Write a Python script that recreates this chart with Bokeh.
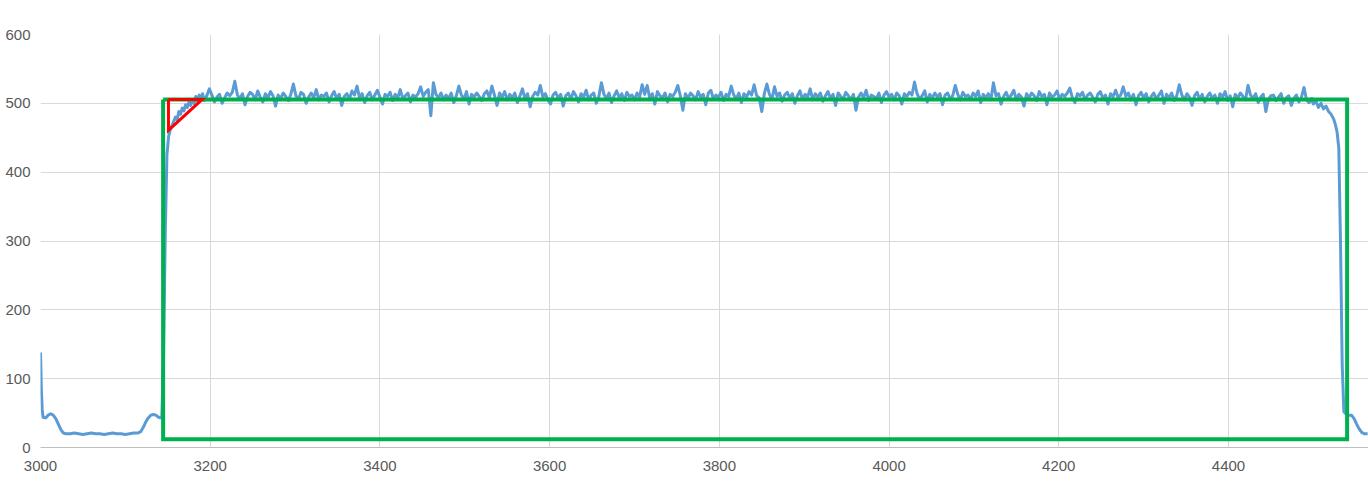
from bokeh.plotting import figure
from bokeh.models import FixedTicker, Range1d
from bokeh.embed import file_html
from bokeh.resources import INLINE

# --- data ---------------------------------------------------------------
lead_x = [3000, 3001, 3002, 3003, 3006, 3009, 3012, 3015, 3018, 3021, 3024, 3027, 3030,
          3035, 3040, 3045, 3050, 3055, 3060, 3065, 3070, 3075, 3080, 3085, 3090, 3095,
          3100, 3105, 3110, 3115,
          3118, 3121, 3124, 3127, 3130, 3133, 3136, 3139, 3141, 3143,
          3145, 3147, 3149, 3151, 3153, 3155, 3157, 3159, 3161, 3163, 3165, 3167, 3169,
          3171, 3173, 3175, 3177, 3179, 3181, 3183, 3185, 3187, 3189, 3191]
lead_y = [138, 85, 55, 44, 43, 47, 49, 47, 42, 34, 26, 21, 20,
          20, 21, 20, 19, 20, 21, 20, 20, 19, 20, 21, 20, 20,
          19, 20, 21, 21,
          23, 29, 37, 43, 47, 48, 47, 44, 43, 45,
          130, 310, 425, 452, 462, 468, 474, 480, 476, 488, 484, 493, 489,
          498, 494, 502, 497, 505, 500, 510, 503, 512, 506, 514]

plateau_start = 3193
plateau_step = 3
plateau_y = [
    504, 511, 521, 512, 502, 509, 513, 500, 508, 515, 511, 516,
    532, 512, 507, 514, 498, 510, 516, 513, 505, 518, 509, 502,
    514, 508, 517, 511, 496, 512, 507, 515, 510, 504, 513, 528,
    511, 506, 516, 513, 500, 509, 515, 508, 520, 505, 512, 510,
    515, 502, 511, 517, 507, 513, 497, 510, 514, 506, 518, 512,
    525, 508, 514, 501, 511, 516, 505, 512, 519, 509, 499, 513,
    510, 516, 504, 513, 508, 520, 506, 511, 515, 502, 512, 509,
    514, 524, 510, 516, 520, 482, 530, 513, 508, 515, 505, 512,
    507, 515, 501, 511, 525, 512, 506, 517, 499, 513, 509, 515,
    510, 504, 514, 518, 508, 525, 512, 497, 515, 509, 517, 505,
    513, 508, 515, 501, 511, 521, 506, 514, 495, 510, 516, 512,
    526, 509, 514, 505, 499, 512, 516, 508, 513, 496, 511, 515,
    506, 517, 511, 502, 514, 509, 519, 505, 512, 515, 500, 510,
    530, 513, 507, 515, 501, 511, 518, 508, 514, 504, 516, 510,
    512, 505, 515, 509, 527, 513, 526, 507, 514, 499, 517, 511,
    508, 515, 502, 513, 510, 516, 526, 511, 490, 514, 507, 515,
    511, 505, 517, 509, 513, 498, 515, 519, 506, 512, 509, 516,
    504, 513, 510, 525, 512, 507, 515, 501, 514, 509, 517, 512,
    527, 511, 508, 488, 514, 528, 513, 506, 524, 510, 515, 503,
    512, 516, 508, 514, 500, 511, 518, 506, 513, 509, 521, 505,
    514, 509, 515, 503, 511, 517, 507, 513, 497, 515, 510, 506,
    516, 511, 505, 513, 490, 509, 515, 508, 519, 504, 512, 510,
    507, 515, 501, 512, 517, 509, 513, 505, 515, 511, 499, 514,
    510, 516, 512, 531, 514, 506, 511, 518, 502, 513, 508, 515,
    509, 514, 498, 512, 515, 507, 511, 526, 513, 505, 516, 510,
    512, 506, 515, 510, 518, 501, 513, 508, 514, 505, 530, 511,
    514, 499, 510, 516, 507, 512, 519, 505, 513, 509, 496, 514,
    508, 515, 511, 504, 517, 510, 513, 498, 515, 509, 512, 518,
    506, 513, 510, 515, 522, 508, 501, 514, 511, 516, 505, 512,
    515, 509, 502, 513, 517, 507, 512, 499, 514, 510, 519, 508,
    512, 524, 510, 515, 505, 513, 498, 511, 516, 508, 514, 502,
    510, 515, 506, 512, 518, 500, 513, 508, 515, 504, 511, 527,
    512, 505, 514, 509, 497, 511, 516, 506, 513, 502, 510, 515,
    507, 512, 500, 514, 509, 517, 504, 511, 495, 513, 508, 515,
    510, 505, 526, 512, 507, 514, 501, 509, 513, 488, 506, 511,
    512, 504, 509, 514, 500, 508, 511, 497, 507, 512, 502, 509,
    523, 505, 501, 507]

tail_x = [4500, 4503, 4506, 4509, 4512, 4515, 4518, 4521, 4524, 4526, 4528, 4530,
          4532, 4534, 4536, 4539, 4542, 4545, 4548, 4551, 4554, 4557, 4560, 4564]
tail_y = [499, 503, 494, 500, 492, 496, 488, 484, 477, 469, 458, 435,
          300, 120, 52, 48, 47, 47, 42, 34, 27, 22, 20, 20]

# annotation shapes (green box, red triangle)
box_x = [3144.5, 3144.5, 4539.8, 4539.8, 3144.5]
box_y = [505.6, 12, 12, 505.6, 505.6]
tri_x = [3150.8, 3150.8, 3190.5, 3150.8]
tri_y = [505.6, 460.7, 505.6, 505.6]

x_ticks = [3000, 3200, 3400, 3600, 3800, 4000, 4200, 4400]
y_ticks = [0, 100, 200, 300, 400, 500, 600]

# --- assemble series -----------------------------------------------------
plateau_x = [plateau_start + plateau_step * i for i in range(len(plateau_y))]
xs = lead_x + plateau_x + tail_x
ys = lead_y + plateau_y + tail_y

p = figure(width=1368, height=485, output_backend="svg", toolbar_location=None,
           x_range=Range1d(3000, 4565), y_range=Range1d(0, 600),
           min_border_left=40, min_border_right=0, min_border_top=34,
           min_border_bottom=38)
p.outline_line_color = None
p.background_fill_color = "white"
p.border_fill_color = "white"

for ax in (p.xaxis[0], p.yaxis[0]):
    ax.major_tick_line_color = None
    ax.minor_tick_line_color = None
    ax.major_tick_out = 0
    ax.major_tick_in = 0
    ax.minor_tick_out = 0
    ax.major_label_text_font = "Liberation Sans"
    ax.major_label_text_font_size = "15px"
    ax.major_label_text_color = "#595959"

p.xaxis.ticker = FixedTicker(ticks=x_ticks)
p.yaxis.ticker = FixedTicker(ticks=y_ticks)
p.xaxis.axis_line_color = "#bfbfbf"
p.xaxis.axis_line_width = 1
p.yaxis.axis_line_color = None
p.xaxis.major_label_standoff = 13
p.yaxis.major_label_standoff = 10

p.xgrid.ticker = FixedTicker(ticks=x_ticks)
p.ygrid.ticker = FixedTicker(ticks=y_ticks)
p.xgrid.grid_line_color = "#d9d9d9"
p.ygrid.grid_line_color = "#d9d9d9"

p.line(xs, ys, line_color="#5B9BD5", line_width=3, line_join="round")
p.line(box_x, box_y, line_color="#00B050", line_width=4, line_join="miter")
p.line(tri_x, tri_y, line_color="#FF0000", line_width=3, line_join="miter")

open("out.html", "w").write(file_html(p, INLINE))
